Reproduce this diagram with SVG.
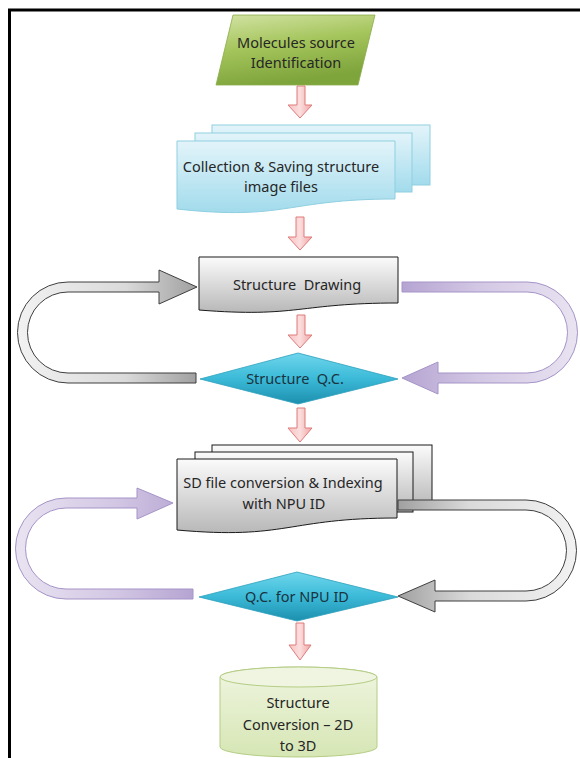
<svg xmlns="http://www.w3.org/2000/svg" width="580" height="758" viewBox="0 0 580 758">
<style>
text{font-family:"Noto Sans","Liberation Sans",sans-serif;font-size:14.5px;fill:#262626;text-anchor:middle}
.pink{fill:url(#gPink);stroke:#e07a7a;stroke-width:1}
.blk{stroke:#1a1a1a;stroke-width:1}
</style>
<defs>
<linearGradient id="gGreen" x1="0" y1="0" x2="0.3" y2="1"><stop offset="0" stop-color="#d3e3a4"/><stop offset="0.5" stop-color="#a3c45a"/><stop offset="1" stop-color="#7ea43c"/></linearGradient>
<linearGradient id="gBlue" x1="0" y1="0" x2="0" y2="1"><stop offset="0" stop-color="#e3f4fa"/><stop offset="1" stop-color="#a2dbec"/></linearGradient>
<linearGradient id="gGray" x1="0" y1="0" x2="0" y2="1"><stop offset="0" stop-color="#fbfbfb"/><stop offset="1" stop-color="#b8b8b8"/></linearGradient>
<linearGradient id="gCyan" x1="0" y1="0" x2="0" y2="1"><stop offset="0" stop-color="#6fd6ec"/><stop offset="0.5" stop-color="#3bbad8"/><stop offset="1" stop-color="#1d8fae"/></linearGradient>
<linearGradient id="gCyl" x1="0" y1="0" x2="0" y2="1"><stop offset="0" stop-color="#eff5e0"/><stop offset="1" stop-color="#d6e6b4"/></linearGradient>
<linearGradient id="gPink" x1="0" y1="0" x2="1" y2="0"><stop offset="0" stop-color="#f7c2c2"/><stop offset="0.5" stop-color="#fbdede"/><stop offset="1" stop-color="#f0a4a4"/></linearGradient>
<linearGradient id="gGrayArrL" x1="0" y1="0" x2="1" y2="0"><stop offset="0" stop-color="#f2f2f2"/><stop offset="0.6" stop-color="#dadada"/><stop offset="1" stop-color="#a0a0a0"/></linearGradient>
<linearGradient id="gGrayArrR" x1="1" y1="0" x2="0" y2="0"><stop offset="0" stop-color="#f2f2f2"/><stop offset="0.6" stop-color="#dadada"/><stop offset="1" stop-color="#a0a0a0"/></linearGradient>
<linearGradient id="gPurR" x1="1" y1="0" x2="0" y2="0"><stop offset="0" stop-color="#e9e3f1"/><stop offset="0.55" stop-color="#d3c8e4"/><stop offset="1" stop-color="#b5a4d2"/></linearGradient>
<linearGradient id="gPurL" x1="0" y1="0" x2="1" y2="0"><stop offset="0" stop-color="#e9e3f1"/><stop offset="0.55" stop-color="#d3c8e4"/><stop offset="1" stop-color="#b5a4d2"/></linearGradient>
</defs>
<path d="M9.5,758 V10 H580" fill="none" stroke="#000" stroke-width="3"/>

<g id="connectors">
<path class="pink" d="M297,86 H305 V105 H312 L300,118 L288,105 H297 Z"/>
<path class="pink" d="M296,217 H304 V237 H312 L300,250 L288,237 H296 Z"/>
<path class="pink" d="M297,315 H305 V335 H312 L300,348 L288,335 H297 Z"/>
<path class="pink" d="M297,408 H305 V428 H312 L300,442 L288,428 H297 Z"/>
<path class="pink" d="M296,623 H304 V645 H311 L300,660 L289,645 H296 Z"/>
<path d="M196,383 H68 A50.5,50.5 0 0 1 68,282 H159 V270 L197,287 L159,304 V292 H68 A40.5,40.5 0 0 0 68,373 H196 Z" fill="url(#gGrayArrL)" stroke="#3f3f3f" stroke-width="1"/>
<path d="M402,282 H527 A50.5,50.5 0 0 1 527,383 H438 V394 L402,378 L438,362 V373 H527 A40.5,40.5 0 0 0 527,292 H402 Z" fill="url(#gPurR)" stroke="#a594c8" stroke-width="1"/>
<path d="M193,599 H66 A50.5,50.5 0 0 1 66,498 H137 V488 L173,503 L137,519 V508 H66 A40.5,40.5 0 0 0 66,589 H193 Z" fill="url(#gPurL)" stroke="#a594c8" stroke-width="1"/>
</g>

<g id="n1">
<path d="M233,15 H375 L358,85 H216 Z" fill="url(#gGreen)" stroke="#8aab4a" stroke-width="0.8"/>
<text x="296" y="48">Molecules source</text>
<text x="296" y="68">Identification</text>
</g>

<g id="n2">
<rect x="212" y="125" width="218" height="60" fill="url(#gBlue)" stroke="#8fcfe0" stroke-width="1"/>
<rect x="195" y="133" width="217" height="59" fill="url(#gBlue)" stroke="#8fcfe0" stroke-width="1"/>
<path d="M177,141 H395 V199 C286,199 286,221 177,209 Z" fill="url(#gBlue)" stroke="#8fcfe0" stroke-width="1"/>
<text x="281" y="172">Collection &amp; Saving structure</text>
<text x="281" y="192">image files</text>
</g>

<g id="n3">
<path d="M199,257 H398 V303 C298,303 298,318 199,310 Z" fill="url(#gGray)" class="blk"/>
<text x="297" y="290">Structure&#160; Drawing</text>
</g>

<g id="n4">
<path d="M200,379 L298,353 L398,379 L298,404 Z" fill="url(#gCyan)" stroke="#2b9fbd" stroke-width="0.8"/>
<text x="295" y="384" style="fill:#1c3340">Structure&#160; Q.C.</text>
</g>

<g id="n5">
<rect x="212" y="445" width="220" height="62" fill="url(#gGray)" class="blk"/>
<rect x="195" y="452" width="218" height="60" fill="url(#gGray)" class="blk"/>
<path d="M177,459 H397 V518 C287,518 287,540 177,530 Z" fill="url(#gGray)" class="blk"/>
<text x="283" y="488">SD file conversion &amp; Indexing</text>
<text x="284" y="509">with NPU ID</text>
</g>

<path d="M398,500 H526 A50.5,50.5 0 0 1 526,601 H435 V612 L398,596 L435,580 V591 H526 A40.5,40.5 0 0 0 526,510 H398 Z" fill="url(#gGrayArrR)" stroke="#3f3f3f" stroke-width="1"/>

<g id="n6">
<path d="M199,597 L297,572 L398,597 L297,621 Z" fill="url(#gCyan)" stroke="#2b9fbd" stroke-width="0.8"/>
<text x="297" y="602" style="fill:#1c3340">Q.C. for NPU ID</text>
</g>

<g id="n7">
<path d="M220,677 V747 A78.5,10 0 0 0 377,747 V677 A78.5,10 0 0 0 220,677 Z" fill="url(#gCyl)" stroke="#b5cd85" stroke-width="1"/>
<ellipse cx="298.5" cy="677" rx="78.5" ry="10" fill="#eff5e0" stroke="#b5cd85" stroke-width="1"/>
<text x="298" y="708">Structure</text>
<text x="298" y="730">Conversion – 2D</text>
<text x="298" y="751">to 3D</text>
</g>
</svg>
